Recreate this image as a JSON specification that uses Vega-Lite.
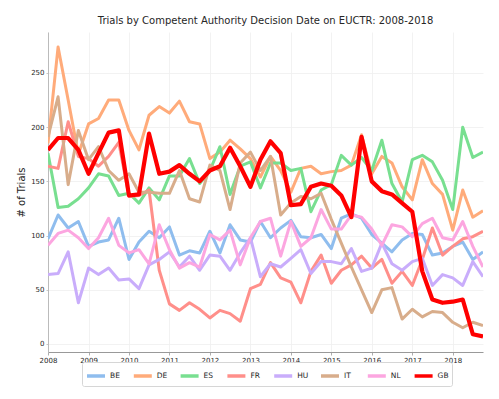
{
"$schema": "https://vega.github.io/schema/vega-lite/v6.json",
"width": 435, "height": 320,
"autosize": {"type": "none"},
"padding": {"left": 48, "top": 32, "right": 16, "bottom": 47},
"background": "white",
"title": {"text": "Trials by Competent Authority Decision Date on EUCTR: 2008-2018", "fontSize": 10, "font": "DejaVu Sans", "fontWeight": "normal", "color": "#262626", "offset": 6, "frame": "group", "anchor": "middle"},
"data": {"values": [
{"date":"2008-01-01","country":"BE","trials":97},{"date":"2008-04-01","country":"BE","trials":119},{"date":"2008-07-01","country":"BE","trials":107},{"date":"2008-10-01","country":"BE","trials":113},
{"date":"2009-01-01","country":"BE","trials":90},{"date":"2009-04-01","country":"BE","trials":94},{"date":"2009-07-01","country":"BE","trials":96},{"date":"2009-10-01","country":"BE","trials":116},
{"date":"2010-01-01","country":"BE","trials":78},{"date":"2010-04-01","country":"BE","trials":94},{"date":"2010-07-01","country":"BE","trials":104},{"date":"2010-10-01","country":"BE","trials":98},
{"date":"2011-01-01","country":"BE","trials":108},{"date":"2011-04-01","country":"BE","trials":82},{"date":"2011-07-01","country":"BE","trials":86},{"date":"2011-10-01","country":"BE","trials":84},
{"date":"2012-01-01","country":"BE","trials":104},{"date":"2012-04-01","country":"BE","trials":84},{"date":"2012-07-01","country":"BE","trials":110},{"date":"2012-10-01","country":"BE","trials":96},
{"date":"2013-01-01","country":"BE","trials":94},{"date":"2013-04-01","country":"BE","trials":113},{"date":"2013-07-01","country":"BE","trials":98},{"date":"2013-10-01","country":"BE","trials":107},
{"date":"2014-01-01","country":"BE","trials":114},{"date":"2014-04-01","country":"BE","trials":99},{"date":"2014-07-01","country":"BE","trials":98},{"date":"2014-10-01","country":"BE","trials":101},
{"date":"2015-01-01","country":"BE","trials":88},{"date":"2015-04-01","country":"BE","trials":116},{"date":"2015-07-01","country":"BE","trials":120},{"date":"2015-10-01","country":"BE","trials":116},
{"date":"2016-01-01","country":"BE","trials":101},{"date":"2016-04-01","country":"BE","trials":93},{"date":"2016-07-01","country":"BE","trials":85},{"date":"2016-10-01","country":"BE","trials":96},
{"date":"2017-01-01","country":"BE","trials":102},{"date":"2017-04-01","country":"BE","trials":101},{"date":"2017-07-01","country":"BE","trials":82},{"date":"2017-10-01","country":"BE","trials":84},
{"date":"2018-01-01","country":"BE","trials":90},{"date":"2018-04-01","country":"BE","trials":94},{"date":"2018-07-01","country":"BE","trials":78},{"date":"2018-10-01","country":"BE","trials":85},
{"date":"2008-01-01","country":"DE","trials":185},{"date":"2008-04-01","country":"DE","trials":274},{"date":"2008-07-01","country":"DE","trials":225},{"date":"2008-10-01","country":"DE","trials":175},
{"date":"2009-01-01","country":"DE","trials":203},{"date":"2009-04-01","country":"DE","trials":208},{"date":"2009-07-01","country":"DE","trials":225},{"date":"2009-10-01","country":"DE","trials":225},
{"date":"2010-01-01","country":"DE","trials":197},{"date":"2010-04-01","country":"DE","trials":179},{"date":"2010-07-01","country":"DE","trials":211},{"date":"2010-10-01","country":"DE","trials":219},
{"date":"2011-01-01","country":"DE","trials":213},{"date":"2011-04-01","country":"DE","trials":224},{"date":"2011-07-01","country":"DE","trials":205},{"date":"2011-10-01","country":"DE","trials":203},
{"date":"2012-01-01","country":"DE","trials":171},{"date":"2012-04-01","country":"DE","trials":177},{"date":"2012-07-01","country":"DE","trials":188},{"date":"2012-10-01","country":"DE","trials":180},
{"date":"2013-01-01","country":"DE","trials":171},{"date":"2013-04-01","country":"DE","trials":154},{"date":"2013-07-01","country":"DE","trials":173},{"date":"2013-10-01","country":"DE","trials":160},
{"date":"2014-01-01","country":"DE","trials":140},{"date":"2014-04-01","country":"DE","trials":162},{"date":"2014-07-01","country":"DE","trials":164},{"date":"2014-10-01","country":"DE","trials":157},
{"date":"2015-01-01","country":"DE","trials":159},{"date":"2015-04-01","country":"DE","trials":160},{"date":"2015-07-01","country":"DE","trials":165},{"date":"2015-10-01","country":"DE","trials":193},
{"date":"2016-01-01","country":"DE","trials":157},{"date":"2016-04-01","country":"DE","trials":173},{"date":"2016-07-01","country":"DE","trials":167},{"date":"2016-10-01","country":"DE","trials":145},
{"date":"2017-01-01","country":"DE","trials":133},{"date":"2017-04-01","country":"DE","trials":170},{"date":"2017-07-01","country":"DE","trials":148},{"date":"2017-10-01","country":"DE","trials":138},
{"date":"2018-01-01","country":"DE","trials":105},{"date":"2018-04-01","country":"DE","trials":142},{"date":"2018-07-01","country":"DE","trials":117},{"date":"2018-10-01","country":"DE","trials":123},
{"date":"2008-01-01","country":"ES","trials":176},{"date":"2008-04-01","country":"ES","trials":126},{"date":"2008-07-01","country":"ES","trials":127},{"date":"2008-10-01","country":"ES","trials":134},
{"date":"2009-01-01","country":"ES","trials":144},{"date":"2009-04-01","country":"ES","trials":157},{"date":"2009-07-01","country":"ES","trials":155},{"date":"2009-10-01","country":"ES","trials":137},
{"date":"2010-01-01","country":"ES","trials":139},{"date":"2010-04-01","country":"ES","trials":130},{"date":"2010-07-01","country":"ES","trials":144},{"date":"2010-10-01","country":"ES","trials":133},
{"date":"2011-01-01","country":"ES","trials":155},{"date":"2011-04-01","country":"ES","trials":155},{"date":"2011-07-01","country":"ES","trials":171},{"date":"2011-10-01","country":"ES","trials":148},
{"date":"2012-01-01","country":"ES","trials":160},{"date":"2012-04-01","country":"ES","trials":182},{"date":"2012-07-01","country":"ES","trials":138},{"date":"2012-10-01","country":"ES","trials":164},
{"date":"2013-01-01","country":"ES","trials":168},{"date":"2013-04-01","country":"ES","trials":144},{"date":"2013-07-01","country":"ES","trials":167},{"date":"2013-10-01","country":"ES","trials":167},
{"date":"2014-01-01","country":"ES","trials":160},{"date":"2014-04-01","country":"ES","trials":162},{"date":"2014-07-01","country":"ES","trials":122},{"date":"2014-10-01","country":"ES","trials":142},
{"date":"2015-01-01","country":"ES","trials":147},{"date":"2015-04-01","country":"ES","trials":174},{"date":"2015-07-01","country":"ES","trials":165},{"date":"2015-10-01","country":"ES","trials":172},
{"date":"2016-01-01","country":"ES","trials":160},{"date":"2016-04-01","country":"ES","trials":188},{"date":"2016-07-01","country":"ES","trials":148},{"date":"2016-10-01","country":"ES","trials":131},
{"date":"2017-01-01","country":"ES","trials":170},{"date":"2017-04-01","country":"ES","trials":174},{"date":"2017-07-01","country":"ES","trials":168},{"date":"2017-10-01","country":"ES","trials":151},
{"date":"2018-01-01","country":"ES","trials":124},{"date":"2018-04-01","country":"ES","trials":200},{"date":"2018-07-01","country":"ES","trials":172},{"date":"2018-10-01","country":"ES","trials":177},
{"date":"2008-01-01","country":"FR","trials":164},{"date":"2008-04-01","country":"FR","trials":162},{"date":"2008-07-01","country":"FR","trials":205},{"date":"2008-10-01","country":"FR","trials":173},
{"date":"2009-01-01","country":"FR","trials":171},{"date":"2009-04-01","country":"FR","trials":164},{"date":"2009-07-01","country":"FR","trials":173},{"date":"2009-10-01","country":"FR","trials":186},
{"date":"2010-01-01","country":"FR","trials":136},{"date":"2010-04-01","country":"FR","trials":137},{"date":"2010-07-01","country":"FR","trials":142},{"date":"2010-10-01","country":"FR","trials":68},
{"date":"2011-01-01","country":"FR","trials":37},{"date":"2011-04-01","country":"FR","trials":31},{"date":"2011-07-01","country":"FR","trials":38},{"date":"2011-10-01","country":"FR","trials":32},
{"date":"2012-01-01","country":"FR","trials":24},{"date":"2012-04-01","country":"FR","trials":31},{"date":"2012-07-01","country":"FR","trials":28},{"date":"2012-10-01","country":"FR","trials":21},
{"date":"2013-01-01","country":"FR","trials":51},{"date":"2013-04-01","country":"FR","trials":55},{"date":"2013-07-01","country":"FR","trials":75},{"date":"2013-10-01","country":"FR","trials":61},
{"date":"2014-01-01","country":"FR","trials":57},{"date":"2014-04-01","country":"FR","trials":38},{"date":"2014-07-01","country":"FR","trials":67},{"date":"2014-10-01","country":"FR","trials":82},
{"date":"2015-01-01","country":"FR","trials":56},{"date":"2015-04-01","country":"FR","trials":68},{"date":"2015-07-01","country":"FR","trials":73},{"date":"2015-10-01","country":"FR","trials":81},
{"date":"2016-01-01","country":"FR","trials":70},{"date":"2016-04-01","country":"FR","trials":78},{"date":"2016-07-01","country":"FR","trials":56},{"date":"2016-10-01","country":"FR","trials":67},
{"date":"2017-01-01","country":"FR","trials":54},{"date":"2017-04-01","country":"FR","trials":78},{"date":"2017-07-01","country":"FR","trials":107},{"date":"2017-10-01","country":"FR","trials":82},
{"date":"2018-01-01","country":"FR","trials":90},{"date":"2018-04-01","country":"FR","trials":97},{"date":"2018-07-01","country":"FR","trials":99},{"date":"2018-10-01","country":"FR","trials":104},
{"date":"2008-01-01","country":"HU","trials":64},{"date":"2008-04-01","country":"HU","trials":65},{"date":"2008-07-01","country":"HU","trials":85},{"date":"2008-10-01","country":"HU","trials":38},
{"date":"2009-01-01","country":"HU","trials":70},{"date":"2009-04-01","country":"HU","trials":64},{"date":"2009-07-01","country":"HU","trials":70},{"date":"2009-10-01","country":"HU","trials":59},
{"date":"2010-01-01","country":"HU","trials":60},{"date":"2010-04-01","country":"HU","trials":51},{"date":"2010-07-01","country":"HU","trials":73},{"date":"2010-10-01","country":"HU","trials":78},
{"date":"2011-01-01","country":"HU","trials":85},{"date":"2011-04-01","country":"HU","trials":71},{"date":"2011-07-01","country":"HU","trials":81},{"date":"2011-10-01","country":"HU","trials":68},
{"date":"2012-01-01","country":"HU","trials":82},{"date":"2012-04-01","country":"HU","trials":81},{"date":"2012-07-01","country":"HU","trials":68},{"date":"2012-10-01","country":"HU","trials":84},
{"date":"2013-01-01","country":"HU","trials":98},{"date":"2013-04-01","country":"HU","trials":62},{"date":"2013-07-01","country":"HU","trials":74},{"date":"2013-10-01","country":"HU","trials":71},
{"date":"2014-01-01","country":"HU","trials":79},{"date":"2014-04-01","country":"HU","trials":87},{"date":"2014-07-01","country":"HU","trials":65},{"date":"2014-10-01","country":"HU","trials":76},
{"date":"2015-01-01","country":"HU","trials":76},{"date":"2015-04-01","country":"HU","trials":74},{"date":"2015-07-01","country":"HU","trials":88},{"date":"2015-10-01","country":"HU","trials":67},
{"date":"2016-01-01","country":"HU","trials":70},{"date":"2016-04-01","country":"HU","trials":93},{"date":"2016-07-01","country":"HU","trials":74},{"date":"2016-10-01","country":"HU","trials":68},
{"date":"2017-01-01","country":"HU","trials":76},{"date":"2017-04-01","country":"HU","trials":79},{"date":"2017-07-01","country":"HU","trials":54},{"date":"2017-10-01","country":"HU","trials":64},
{"date":"2018-01-01","country":"HU","trials":61},{"date":"2018-04-01","country":"HU","trials":54},{"date":"2018-07-01","country":"HU","trials":76},{"date":"2018-10-01","country":"HU","trials":62},
{"date":"2008-01-01","country":"IT","trials":191},{"date":"2008-04-01","country":"IT","trials":228},{"date":"2008-07-01","country":"IT","trials":147},{"date":"2008-10-01","country":"IT","trials":197},
{"date":"2009-01-01","country":"IT","trials":170},{"date":"2009-04-01","country":"IT","trials":182},{"date":"2009-07-01","country":"IT","trials":160},{"date":"2009-10-01","country":"IT","trials":151},
{"date":"2010-01-01","country":"IT","trials":157},{"date":"2010-04-01","country":"IT","trials":140},{"date":"2010-07-01","country":"IT","trials":140},{"date":"2010-10-01","country":"IT","trials":139},
{"date":"2011-01-01","country":"IT","trials":139},{"date":"2011-04-01","country":"IT","trials":160},{"date":"2011-07-01","country":"IT","trials":134},{"date":"2011-10-01","country":"IT","trials":131},
{"date":"2012-01-01","country":"IT","trials":165},{"date":"2012-04-01","country":"IT","trials":160},{"date":"2012-07-01","country":"IT","trials":124},{"date":"2012-10-01","country":"IT","trials":167},
{"date":"2013-01-01","country":"IT","trials":177},{"date":"2013-04-01","country":"IT","trials":160},{"date":"2013-07-01","country":"IT","trials":173},{"date":"2013-10-01","country":"IT","trials":119},
{"date":"2014-01-01","country":"IT","trials":130},{"date":"2014-04-01","country":"IT","trials":136},{"date":"2014-07-01","country":"IT","trials":134},{"date":"2014-10-01","country":"IT","trials":139},
{"date":"2015-01-01","country":"IT","trials":115},{"date":"2015-04-01","country":"IT","trials":93},{"date":"2015-07-01","country":"IT","trials":71},{"date":"2015-10-01","country":"IT","trials":50},
{"date":"2016-01-01","country":"IT","trials":29},{"date":"2016-04-01","country":"IT","trials":50},{"date":"2016-07-01","country":"IT","trials":52},{"date":"2016-10-01","country":"IT","trials":23},
{"date":"2017-01-01","country":"IT","trials":32},{"date":"2017-04-01","country":"IT","trials":25},{"date":"2017-07-01","country":"IT","trials":30},{"date":"2017-10-01","country":"IT","trials":29},
{"date":"2018-01-01","country":"IT","trials":20},{"date":"2018-04-01","country":"IT","trials":15},{"date":"2018-07-01","country":"IT","trials":20},{"date":"2018-10-01","country":"IT","trials":17},
{"date":"2008-01-01","country":"NL","trials":91},{"date":"2008-04-01","country":"NL","trials":102},{"date":"2008-07-01","country":"NL","trials":105},{"date":"2008-10-01","country":"NL","trials":98},
{"date":"2009-01-01","country":"NL","trials":88},{"date":"2009-04-01","country":"NL","trials":98},{"date":"2009-07-01","country":"NL","trials":116},{"date":"2009-10-01","country":"NL","trials":91},
{"date":"2010-01-01","country":"NL","trials":84},{"date":"2010-04-01","country":"NL","trials":87},{"date":"2010-07-01","country":"NL","trials":74},{"date":"2010-10-01","country":"NL","trials":110},
{"date":"2011-01-01","country":"NL","trials":87},{"date":"2011-04-01","country":"NL","trials":70},{"date":"2011-07-01","country":"NL","trials":75},{"date":"2011-10-01","country":"NL","trials":71},
{"date":"2012-01-01","country":"NL","trials":101},{"date":"2012-04-01","country":"NL","trials":96},{"date":"2012-07-01","country":"NL","trials":105},{"date":"2012-10-01","country":"NL","trials":73},
{"date":"2013-01-01","country":"NL","trials":98},{"date":"2013-04-01","country":"NL","trials":113},{"date":"2013-07-01","country":"NL","trials":116},{"date":"2013-10-01","country":"NL","trials":81},
{"date":"2014-01-01","country":"NL","trials":113},{"date":"2014-04-01","country":"NL","trials":90},{"date":"2014-07-01","country":"NL","trials":98},{"date":"2014-10-01","country":"NL","trials":124},
{"date":"2015-01-01","country":"NL","trials":106},{"date":"2015-04-01","country":"NL","trials":106},{"date":"2015-07-01","country":"NL","trials":119},{"date":"2015-10-01","country":"NL","trials":117},
{"date":"2016-01-01","country":"NL","trials":106},{"date":"2016-04-01","country":"NL","trials":91},{"date":"2016-07-01","country":"NL","trials":110},{"date":"2016-10-01","country":"NL","trials":108},
{"date":"2017-01-01","country":"NL","trials":99},{"date":"2017-04-01","country":"NL","trials":111},{"date":"2017-07-01","country":"NL","trials":116},{"date":"2017-10-01","country":"NL","trials":98},
{"date":"2018-01-01","country":"NL","trials":96},{"date":"2018-04-01","country":"NL","trials":113},{"date":"2018-07-01","country":"NL","trials":90},{"date":"2018-10-01","country":"NL","trials":71},
{"date":"2008-01-01","country":"GB","trials":179},{"date":"2008-04-01","country":"GB","trials":190},{"date":"2008-07-01","country":"GB","trials":190},{"date":"2008-10-01","country":"GB","trials":179},
{"date":"2009-01-01","country":"GB","trials":157},{"date":"2009-04-01","country":"GB","trials":176},{"date":"2009-07-01","country":"GB","trials":195},{"date":"2009-10-01","country":"GB","trials":197},
{"date":"2010-01-01","country":"GB","trials":137},{"date":"2010-04-01","country":"GB","trials":138},{"date":"2010-07-01","country":"GB","trials":194},{"date":"2010-10-01","country":"GB","trials":157},
{"date":"2011-01-01","country":"GB","trials":159},{"date":"2011-04-01","country":"GB","trials":165},{"date":"2011-07-01","country":"GB","trials":157},{"date":"2011-10-01","country":"GB","trials":150},
{"date":"2012-01-01","country":"GB","trials":160},{"date":"2012-04-01","country":"GB","trials":164},{"date":"2012-07-01","country":"GB","trials":181},{"date":"2012-10-01","country":"GB","trials":164},
{"date":"2013-01-01","country":"GB","trials":145},{"date":"2013-04-01","country":"GB","trials":170},{"date":"2013-07-01","country":"GB","trials":187},{"date":"2013-10-01","country":"GB","trials":176},
{"date":"2014-01-01","country":"GB","trials":128},{"date":"2014-04-01","country":"GB","trials":129},{"date":"2014-07-01","country":"GB","trials":145},{"date":"2014-10-01","country":"GB","trials":148},
{"date":"2015-01-01","country":"GB","trials":146},{"date":"2015-04-01","country":"GB","trials":137},{"date":"2015-07-01","country":"GB","trials":117},{"date":"2015-10-01","country":"GB","trials":191},
{"date":"2016-01-01","country":"GB","trials":150},{"date":"2016-04-01","country":"GB","trials":141},{"date":"2016-07-01","country":"GB","trials":138},{"date":"2016-10-01","country":"GB","trials":130},
{"date":"2017-01-01","country":"GB","trials":122},{"date":"2017-04-01","country":"GB","trials":67},{"date":"2017-07-01","country":"GB","trials":41},{"date":"2017-10-01","country":"GB","trials":38},
{"date":"2018-01-01","country":"GB","trials":39},{"date":"2018-04-01","country":"GB","trials":41},{"date":"2018-07-01","country":"GB","trials":9},{"date":"2018-10-01","country":"GB","trials":7}
]},
"mark": {"type": "line", "strokeJoin": "round", "clip": true},
"encoding": {
  "x": {"field": "date", "type": "temporal",
    "scale": {"type": "utc", "domain": [{"year": 2008, "month": 1, "date": 1, "utc": true}, {"year": 2018, "month": 10, "date": 1, "utc": true}]},
    "axis": {"title": null, "format": "%Y",
      "values": [{"year": 2008, "utc": true}, {"year": 2009, "utc": true}, {"year": 2010, "utc": true}, {"year": 2011, "utc": true}, {"year": 2012, "utc": true}, {"year": 2013, "utc": true}, {"year": 2014, "utc": true}, {"year": 2015, "utc": true}, {"year": 2016, "utc": true}, {"year": 2017, "utc": true}, {"year": 2018, "utc": true}],
      "labelFontSize": 7, "labelColor": "#262626", "labelFont": "DejaVu Sans", "labelFlush": false, "labelPadding": 1, "grid": true, "gridColor": "#efefef", "gridWidth": 0.8, "domainColor": "#999999", "domainWidth": 1, "tickColor": "#999999", "tickSize": 3, "tickWidth": 0.8}},
  "y": {"field": "trials", "type": "quantitative",
    "scale": {"domain": [-7.4, 287.8], "nice": false, "zero": false},
    "axis": {"title": "# of Trials", "values": [0, 50, 100, 150, 200, 250], "titleFontSize": 10, "titleFont": "DejaVu Sans", "titleFontWeight": "normal", "titleColor": "#262626", "titlePadding": 4, "labelFontSize": 7, "labelColor": "#262626", "labelFont": "DejaVu Sans", "labelPadding": 2, "grid": true, "gridColor": "#efefef", "gridWidth": 0.8, "domainColor": "#bbbbbb", "domainWidth": 1, "tickColor": "#bbbbbb", "tickSize": 2, "tickWidth": 0.8}},
  "color": {"field": "country", "type": "nominal",
    "scale": {"domain": ["BE", "DE", "ES", "FR", "HU", "IT", "NL", "GB"], "range": ["#8fbdee", "#ffab7a", "#78df90", "#ff8f8a", "#c9adfb", "#d8ad8b", "#fca6e0", "#ff0000"]},
    "legend": {"orient": "none", "legendX": 34, "legendY": 330, "direction": "horizontal", "columns": 8, "gridAlign": "all", "title": null, "symbolType": "stroke", "symbolSize": 324, "symbolStrokeWidth": 3.5, "labelFontSize": 7.5, "labelFont": "DejaVu Sans", "labelColor": "#262626", "labelOffset": 3, "columnPadding": 4.8, "padding": 3, "fillColor": "white", "strokeColor": "#d6d6d6", "cornerRadius": 2}},
  "strokeWidth": {"condition": {"test": "datum.country === 'GB'", "value": 4.2}, "value": 3}
},
"config": {"view": {"stroke": null}, "font": "DejaVu Sans"}
}
